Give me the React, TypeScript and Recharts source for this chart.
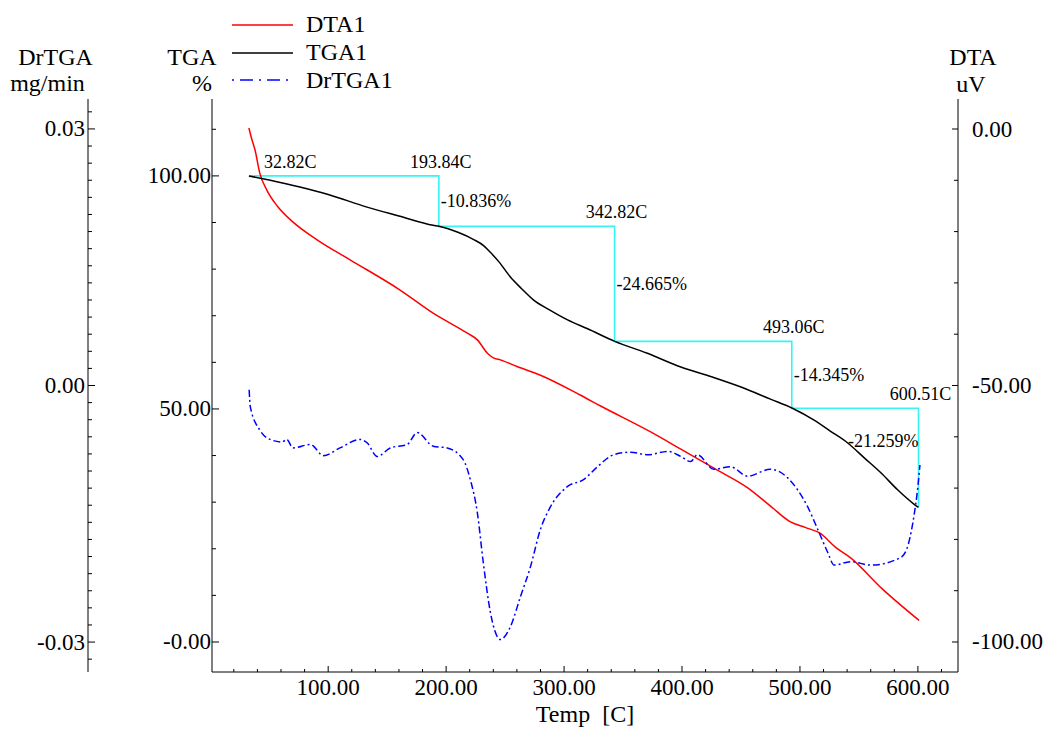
import React from 'react'
import { LineChart, Line, XAxis, YAxis, ReferenceDot } from 'recharts'

const font = '"Liberation Serif", "Times New Roman", serif'

// TGA1 (%)
const tgaTemp = [32.8, 50, 76, 100, 133, 160, 189, 193.8, 210, 223, 232, 237.5, 245, 254.5, 264, 274, 288, 303, 320, 343, 370, 399, 425, 450, 475, 494, 512, 526, 540.5, 555, 568.6, 583, 596.6, 600.5]
const tgaMass = [100.0, 99.1, 97.6, 96.0, 93.3, 91.4, 89.4, 89.2, 87.9, 86.4, 85.0, 83.6, 81.5, 78.3, 75.8, 73.4, 71.2, 69.1, 67.2, 64.5, 62.0, 59.0, 56.9, 54.7, 52.1, 50.1, 47.6, 45.2, 42.7, 39.4, 36.3, 32.6, 29.6, 28.9]

// DTA1 (uV)
const dtaTemp = [32.8, 35, 38, 42, 48, 57.5, 70, 90.6, 118.6, 161, 189, 218, 226.5, 235, 240, 246, 260, 280, 314, 331, 373, 399, 430, 456, 475, 492, 505, 517, 530, 543, 570, 601]
const dtaSignal = [0.2, -1.8, -4.1, -8.6, -11.9, -15.2, -18.1, -21.6, -25.5, -31.4, -35.9, -39.8, -41.1, -43.7, -44.6, -45.0, -46.3, -48.0, -51.9, -54.0, -59.0, -62.4, -66.5, -70.0, -73.5, -76.6, -77.7, -78.8, -81.5, -83.6, -89.7, -95.8]

// DrTGA1 (mg/min)
const drTemp = [33, 34, 42, 50.7, 61, 65, 70, 85, 96, 110, 127, 133, 141.6, 152.6, 167, 175.5, 189, 201, 214.6, 220.5, 226.5, 231.5, 237.5, 246, 254.5, 263, 271.5, 280, 288.4, 303, 316.5, 328.3, 342, 356.4, 371, 388, 399, 407.3, 413, 427, 441, 455.6, 475, 489.6, 498, 506.6, 515, 523.5, 529, 543, 560, 585.6, 592, 596.6, 600, 601.7]
const drRate = [-0.0005, -0.0025, -0.0052, -0.0063, -0.0066, -0.0063, -0.0073, -0.0069, -0.0082, -0.0073, -0.0063, -0.0067, -0.0083, -0.0073, -0.0069, -0.0055, -0.0071, -0.0073, -0.0087, -0.011, -0.0149, -0.0207, -0.0265, -0.0297, -0.0282, -0.0247, -0.0212, -0.0168, -0.0142, -0.0118, -0.011, -0.0095, -0.0081, -0.0078, -0.0081, -0.0077, -0.0083, -0.0089, -0.0081, -0.0098, -0.0095, -0.0106, -0.0098, -0.0108, -0.0122, -0.0142, -0.0168, -0.0195, -0.021, -0.0206, -0.021, -0.0201, -0.0185, -0.0153, -0.0118, -0.0093]

// step analysis
const stepTemps = [32.82, 193.84, 342.82, 493.06, 600.51]
const stepMass = [100, 89.164, 64.499, 50.154, 28.895]
const stepLoss = ['-10.836%', '-24.665%', '-14.345%', '-21.259%']

// ticks
const xTicks = [20, 40, 60, 80, 100, 120, 140, 160, 180, 200, 220, 240, 260, 280, 300, 320, 340, 360, 380, 400, 420, 440, 460, 480, 500, 520, 540, 560, 580, 600, 620]
const xLabels = [100, 200, 300, 400, 500, 600]
const tgaTicks = [0, 10, 20, 30, 40, 50, 60, 70, 80, 90, 100, 110]
const tgaLabels = [0, 50, 100]
const tgaLabelText = ['-0.00', '50.00', '100.00']
const drTicks = [-0.032, -0.03, -0.028, -0.026, -0.024, -0.022, -0.02, -0.018, -0.016, -0.014, -0.012, -0.01, -0.008, -0.006, -0.004, -0.002, 0, 0.002, 0.004, 0.006, 0.008, 0.01, 0.012, 0.014, 0.016, 0.018, 0.02, 0.022, 0.024, 0.026, 0.028, 0.03, 0.032]
const drLabels = [-0.03, 0, 0.03]
const drLabelText = ['-0.03', '0.00', '0.03']
const dtaTicks = [0, -10, -20, -30, -40, -50, -60, -70, -80, -90, -100]
const dtaLabels = [0, -50, -100]
const dtaLabelText = ['0.00', '-50.00', '-100.00']

const tgaData = tgaTemp.map((t, i) => ({ t, v: tgaMass[i] }))
const dtaData = dtaTemp.map((t, i) => ({ t, v: dtaSignal[i] }))
const drData = drTemp.map((t, i) => ({ t, v: drRate[i] }))
const stepData = stepTemps.map((t, i) => ({ t, v: stepMass[i] }))

// axis ids: inner left axis must sort first
const TGA = 'a_tga'
const DR = 'b_dr'
const DTA = 'c_dta'

const findLabel = (vals: number[], v: number) => vals.findIndex((m) => Math.abs(m - v) < 1e-9)

function XTick({ x, y, payload }: any) {
  const major = findLabel(xLabels, payload.value) >= 0
  return (
    <g>
      <line x1={x} x2={x} y1={y} y2={y - (major ? 6 : 3)} stroke="#000" />
      {major && (
        <text x={x} y={y + 15} textAnchor="middle" dominantBaseline="central" fontSize={23} fontFamily={font} fill="#000">
          {payload.value.toFixed(2)}
        </text>
      )}
    </g>
  )
}

function LeftTick({ x, y, payload, labels, texts, gap }: any) {
  const idx = findLabel(labels, payload.value)
  return (
    <g>
      <line x1={x} x2={x + (idx >= 0 ? 7 : 4)} y1={y} y2={y} stroke="#000" />
      {idx >= 0 && (
        <text x={x - gap} y={y} textAnchor="end" dominantBaseline="central" fontSize={23} fontFamily={font} fill="#000">
          {texts[idx]}
        </text>
      )}
    </g>
  )
}

function RightTick({ x, y, payload }: any) {
  const idx = findLabel(dtaLabels, payload.value)
  return (
    <g>
      <line x1={x} x2={x - (idx >= 0 ? 6 : 4)} y1={y} y2={y} stroke="#000" />
      {idx >= 0 && (
        <text x={x + 14} y={y} textAnchor="start" dominantBaseline="central" fontSize={23} fontFamily={font} fill="#000">
          {dtaLabelText[idx]}
        </text>
      )}
    </g>
  )
}

export default function App() {
  return (
    <div style={{ position: 'absolute', left: 0, top: 0, width: 1050, height: 729, background: '#fff' }}>
      <LineChart width={1050} height={729} margin={{ top: 99, right: 12, bottom: 0, left: 28 }}>
        <XAxis
          dataKey="t"
          type="number"
          domain={[1.5, 634]}
          allowDataOverflow
          ticks={xTicks}
          interval={0}
          tickSize={0}
          tickMargin={0}
          tickLine={false}
          tick={<XTick />}
          height={57}
          axisLine={{ stroke: '#000' }}
          label={{ value: 'Temp\u00a0\u00a0[C]', position: 'insideBottom', offset: 7, fill: '#000', fontSize: 24, fontFamily: font }}
        />
        <XAxis xAxisId="top" orientation="top" type="number" domain={[1.5, 634]} height={0} tick={false} tickLine={false} axisLine={{ stroke: '#000' }} />
        <YAxis
          yAxisId={TGA}
          orientation="left"
          width={124}
          domain={[-6.44, 116.5]}
          allowDataOverflow
          ticks={tgaTicks}
          interval={0}
          tickSize={0}
          tickMargin={0}
          tickLine={false}
          tick={<LeftTick labels={tgaLabels} texts={tgaLabelText} gap={1} />}
          axisLine={{ stroke: '#000' }}
        />
        <YAxis
          yAxisId={DR}
          orientation="left"
          width={60}
          domain={[-0.0335, 0.0335]}
          allowDataOverflow
          ticks={drTicks}
          interval={0}
          tickSize={0}
          tickMargin={0}
          tickLine={false}
          tick={<LeftTick labels={drLabels} texts={drLabelText} gap={3} />}
          axisLine={{ stroke: '#000' }}
        />
        <YAxis
          yAxisId={DTA}
          orientation="right"
          width={80}
          domain={[-105.85, 5.85]}
          allowDataOverflow
          ticks={dtaTicks}
          interval={0}
          tickSize={0}
          tickMargin={0}
          tickLine={false}
          tick={<RightTick />}
          axisLine={{ stroke: '#000' }}
        />
        <Line data={stepData} dataKey="v" yAxisId={TGA} type="stepAfter" stroke="#33F5F5" strokeWidth={1.6} dot={false} isAnimationActive={false} />
        <Line data={dtaData} dataKey="v" yAxisId={DTA} type="monotone" stroke="#FF0000" strokeWidth={1.5} dot={false} isAnimationActive={false} />
        <Line data={tgaData} dataKey="v" yAxisId={TGA} type="monotone" stroke="#000000" strokeWidth={1.5} dot={false} isAnimationActive={false} />
        <Line data={drData} dataKey="v" yAxisId={DR} type="monotone" stroke="#0000FF" strokeWidth={1.5} strokeDasharray="7 3 2 3" dot={false} isAnimationActive={false} />
        {stepTemps.map((t, i) => (
          <ReferenceDot
            key={'temp' + i}
            x={t}
            y={i === 0 ? stepMass[0] : stepMass[i - 1]}
            yAxisId={TGA}
            r={0}
            ifOverflow="visible"
            shape={(p: any) => (
              <text x={i === 0 ? p.cx + 15 : p.cx + 2} y={p.cy - 8} textAnchor={i === 0 ? 'start' : 'middle'} fontSize={18} fontFamily={font} fill="#000">
                {t.toFixed(2)}C
              </text>
            )}
          />
        ))}
        {stepLoss.map((s, i) => {
          const last = i === stepLoss.length - 1
          return (
            <ReferenceDot
              key={'loss' + i}
              x={stepTemps[i + 1]}
              y={last ? stepMass[i] : (stepMass[i] + stepMass[i + 1]) / 2}
              yAxisId={TGA}
              r={0}
              ifOverflow="visible"
              shape={(p: any) => (
                <text x={last ? p.cx : p.cx + 2} y={last ? p.cy + 39 : p.cy + 6} textAnchor={last ? 'end' : 'start'} fontSize={18} fontFamily={font} fill="#000">
                  {s}
                </text>
              )}
            />
          )
        })}
      </LineChart>
      <svg width={1050} height={729} style={{ position: 'absolute', left: 0, top: 0, pointerEvents: 'none' }} fontFamily={font} fontSize={24} fill="#000">
        <text x={55.5} y={65} textAnchor="middle">DrTGA</text>
        <text x={47.5} y={91} textAnchor="middle">mg/min</text>
        <text x={192} y={65} textAnchor="middle">TGA</text>
        <text x={202} y={91} textAnchor="middle">%</text>
        <text x={973} y={65} textAnchor="middle">DTA</text>
        <text x={971} y={92} textAnchor="middle">uV</text>
        <line x1={232} x2={293} y1={25} y2={25} stroke="#FF0000" strokeWidth={1.5} />
        <line x1={232} x2={293} y1={53} y2={53} stroke="#000" strokeWidth={1.5} />
        <line x1={232} x2={293} y1={80} y2={80} stroke="#0000FF" strokeWidth={1.5} strokeDasharray="2 6 13 6" />
        <text x={306} y={32}>DTA1</text>
        <text x={306} y={60}>TGA1</text>
        <text x={306} y={88}>DrTGA1</text>
      </svg>
    </div>
  )
}
